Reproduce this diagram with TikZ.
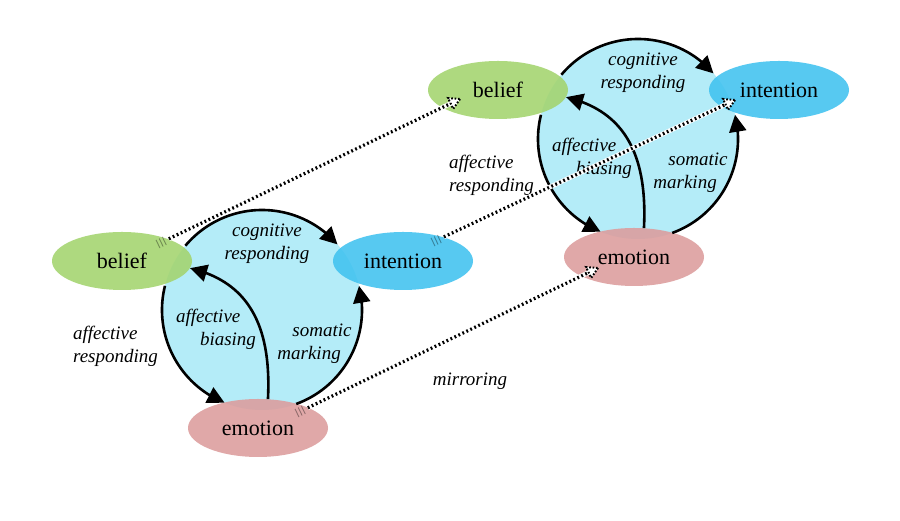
\documentclass[tikz,border=0pt]{standalone}
\usepackage{fontspec}
\setmainfont{Liberation Serif}
\usetikzlibrary{arrows.meta,bending,shapes.geometric,calc}
\definecolor{circc}{HTML}{B4ECF8}
\definecolor{belc}{HTML}{A3D46E}
\definecolor{intc}{HTML}{40C2F0}
\definecolor{emoc}{HTML}{DC9C9C}
\newcommand{\drawcluster}{%
  \coordinate (c) at (262,211);
  \fill[circc] (c) circle[radius=100];
  \node[ell, fill=belc] (belief) at (122,260) {belief};
  \node[ell, fill=intc] (intention) at (403,260) {intention};
  \node[ell, fill=emoc] (emotion) at (258,93) {emotion};
  \draw[arr] (c) ++(140:100) arc[start angle=140, end angle=41, radius=100];
  \draw[arr] (c) ++(166:100) arc[start angle=166, end angle=248, radius=100];
  \draw[arr] (c) ++(290:100) arc[start angle=290, end angle=374, radius=100];
  \draw[arr] (emotion.71) .. controls +(4,78) and +(55,-13) .. (belief.-6);
  \node[lab, align=center] (cr) at (267,277) {cognitive\\responding};
  \node[lab, align=left] (ab) at (216,192) {affective\\\hspace*{24pt}biasing};
  \node[lab, align=left] (sm) at (314.5,177) {\hspace*{15pt}somatic\\marking};
  \node[lab, align=left] (ar) at (115.5,175) {affective\\responding};
}
\newcommand{\mylink}[2]{%
  \draw[white, line width=4.6pt] ($(#1)!12pt!(#2)$) -- ($(#2)!9pt!(#1)$);
  \draw[black, line width=3.2pt, dash pattern=on 1.8pt off 2.6pt] ($(#1)!12pt!(#2)$) -- ($(#2)!9pt!(#1)$);
  \foreach \d in {0,3.5,7}{
    \draw[black, opacity=0.35, line width=0.9pt] ($(#1)!\d pt!(#2)!4.5pt!90:(#2)$) -- ($(#1)!\d pt!(#2)!4.5pt!-90:(#2)$);
  }
  \filldraw[fill=white, draw=black, line width=2pt, dash pattern=on 1.6pt off 1.8pt]
    (#2) -- ($(#2)!12pt!30:(#1)$) -- ($(#2)!12pt!-30:(#1)$) -- cycle;
}
\begin{document}
\begin{tikzpicture}[x=1pt,y=1pt,
  ell/.style={ellipse, minimum width=140pt, minimum height=58pt, inner sep=0pt,
    fill opacity=0.88, text opacity=1, font=\fontsize{22}{24}\selectfont},
  lab/.style={font=\fontsize{19}{23}\selectfont\itshape, inner sep=0pt},
  arr/.style={line width=2.6pt, -{Triangle[length=17pt,width=17pt]}},
]
\useasboundingbox (0,0) rectangle (900,521);
\fill[white] (0,0) rectangle (900,521);
\begin{scope}[name prefix=L-]
  \drawcluster
\end{scope}
\begin{scope}[shift={(376,171)}, name prefix=R-]
  \drawcluster
\end{scope}
\coordinate (s1) at ($(L-belief.center)+(36,17)$);
\coordinate (t1) at ($(R-belief.center)+(-38,-9)$);
\coordinate (s2) at ($(L-intention.center)+(30,19)$);
\coordinate (t2) at ($(R-intention.center)+(-44,-10)$);
\coordinate (s3) at ($(L-emotion.center)+(39,15)$);
\coordinate (t3) at ($(R-emotion.center)+(-36,-11)$);
\mylink{s1}{t1}
\mylink{s2}{t2}
\mylink{s3}{t3}
\node[lab] (mir) at (470,140) {mirroring};
\end{tikzpicture}
\end{document}
